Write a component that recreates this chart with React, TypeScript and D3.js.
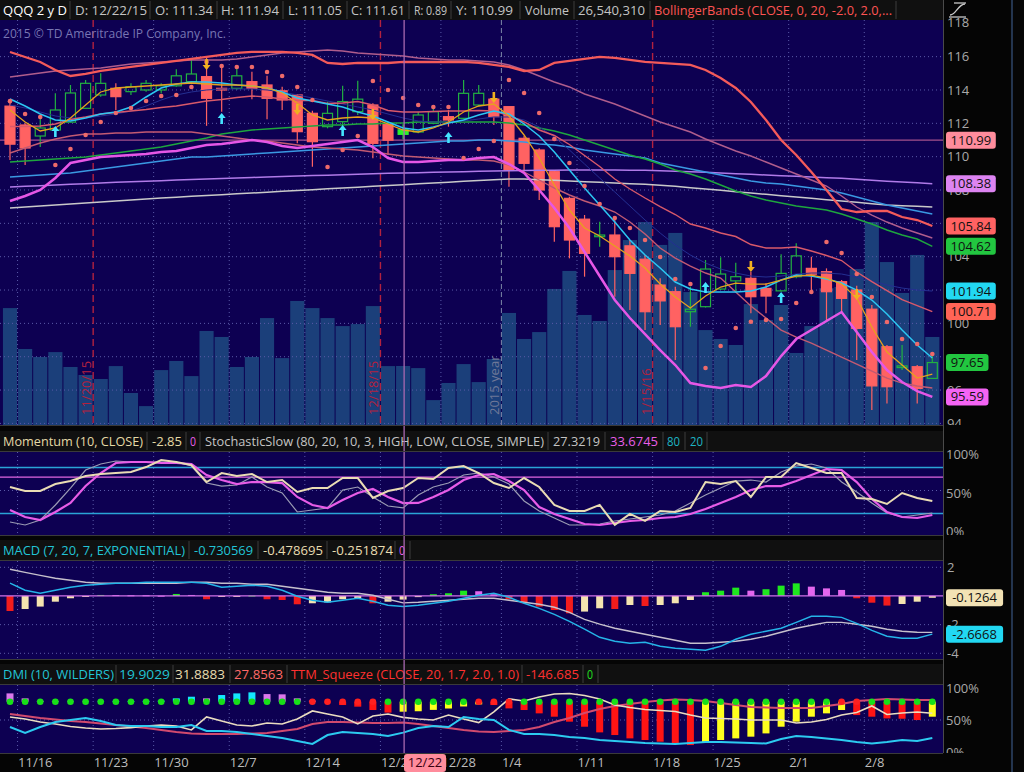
import * as d3 from "d3";

// ---------- data ----------
const dates = ["11/13","11/16","11/17","11/18","11/19","11/20","11/23","11/24","11/25","11/27",
  "11/30","12/1","12/2","12/3","12/4","12/7","12/8","12/9","12/10","12/11",
  "12/14","12/15","12/16","12/17","12/18","12/21","12/22","12/23","12/24","12/28",
  "12/29","12/30","12/31","1/4","1/5","1/6","1/7","1/8","1/11","1/12",
  "1/13","1/14","1/15","1/19","1/20","1/21","1/22","1/25","1/26","1/27",
  "1/28","1/29","2/1","2/2","2/3","2/4","2/5","2/8","2/9","2/10",
  "2/11","2/12"];

const openP = [113.03,111.9,111.24,111.6,112.07,112.9,113.7,114.1,113.9,114.0,
  114.0,114.25,114.5,114.8,114.1,114.1,114.5,114.3,113.95,113.7,
  112.6,111.8,112.1,112.7,113.1,111.95,111.34,111.48,112.0,112.4,
  112.3,113.1,113.45,113.0,111.1,110.4,109.1,107.5,106.25,105.2,
  105.3,104.65,103.85,102.3,101.9,100.7,101.0,102.06,102.55,102.7,
  102.1,101.95,102.8,103.3,103.1,102.5,102.0,100.85,98.6,97.35,
  97.4,96.7];
const highP = [113.4,112.0,112.32,113.8,114.3,114.6,115.0,114.4,114.4,114.6,
  114.4,115.25,115.8,116.0,115.4,115.45,115.1,114.85,114.2,113.75,
  112.75,113.3,114.25,114.55,113.2,112.1,111.94,112.7,113.0,112.8,
  114.6,114.3,113.8,113.0,111.25,110.5,109.2,107.6,106.5,106.1,
  106.4,105.0,104.1,102.7,102.2,102.2,103.8,103.97,103.64,103.1,
  102.4,104.15,104.8,104.0,103.3,102.6,102.25,101.1,98.7,98.7,
  97.5,98.1];
const lowP = [109.8,109.5,110.58,111.5,112.05,112.9,113.6,112.8,113.7,113.9,
  113.8,114.2,114.4,111.85,112.7,114.0,113.45,112.25,112.8,110.8,
  109.4,111.7,111.6,112.5,109.9,110.1,111.05,111.4,111.95,111.8,
  112.25,113.0,111.9,108.2,109.1,107.4,104.9,103.9,102.8,104.6,
  101.6,100.8,99.6,99.9,97.8,99.8,100.95,102.0,101.85,100.6,
  100.6,101.9,102.7,101.85,100.2,100.7,97.8,94.8,95.2,97.2,
  95.2,96.7];
const closeP = [110.75,110.52,111.72,112.8,113.82,114.4,114.4,113.6,114.2,114.4,
  114.25,114.85,114.96,113.5,114.0,114.85,114.1,113.5,113.4,111.5,
  110.9,112.6,113.3,113.45,110.8,110.99,111.61,112.5,112.7,112.2,
  113.8,113.8,112.4,109.2,109.6,108.0,105.8,105.0,104.2,105.3,
  104.0,103.0,100.7,101.35,99.8,100.85,103.26,102.96,102.8,101.6,
  101.64,103.0,104.05,102.95,101.9,101.5,99.7,96.25,96.2,97.45,
  96.1,97.65];
// volume, millions of shares
const volumeM = [52.6,34.2,30.6,32.8,26.1,22.5,20.7,26.5,14.4,8.5,
  24.7,28.8,22.0,42.3,39.6,26.1,30.6,48.1,30.1,55.8,
  52.6,48.1,44.5,45.4,53.5,26.5,26.54031,25.6,11.2,18.9,
  27.4,19.3,29.7,50.4,38.7,41.8,61.2,69.3,49.5,46.8,
  69.7,83.2,91.3,81.0,86.4,59.8,42.7,38.7,36.0,54.4,
  47.2,54.0,32.4,44.5,61.6,62.1,70.2,91.3,73.3,59.4,
  76.5,39.6];

const bbUpper = [116.28,115.98,115.68,115.2,114.84,114.96,115.14,115.26,115.38,115.5,
  115.62,115.74,115.86,115.98,116.1,116.22,116.28,116.28,116.28,116.22,
  116.1,115.62,115.56,115.62,115.62,115.62,115.68,115.68,115.68,115.68,
  115.68,115.62,115.5,115.38,115.14,115.2,115.62,115.74,115.86,115.98,
  115.92,115.8,115.68,115.62,115.56,115.5,115.2,114.72,114.12,113.28,
  112.2,111.0,110.1,109.08,108.0,106.86,106.68,106.74,106.74,106.38,
  106.2,105.84];
const bbMid = [111.81,111.81,111.84,111.96,112.23,112.38,112.56,112.65,112.74,112.83,
  112.95,113.04,113.19,113.34,113.43,113.55,113.64,113.58,113.46,113.37,
  113.37,113.19,113.22,113.31,113.1,112.77,112.68,112.68,112.71,112.74,
  112.74,112.77,112.74,112.47,112.08,111.6,111.27,110.73,110.07,109.41,
  108.66,108.06,107.52,107.01,106.53,105.96,105.72,105.42,105.21,104.73,
  104.52,104.52,104.58,104.34,104.07,103.77,103.08,102.51,101.97,101.43,
  101.07,100.71];
const bbLower = [107.34,107.64,108.0,108.72,109.62,109.8,109.98,110.04,110.1,110.16,
  110.28,110.34,110.52,110.7,110.76,110.88,111.0,110.88,110.64,110.52,
  110.64,110.76,110.88,111.0,110.58,109.92,109.68,109.68,109.74,109.8,
  109.8,109.92,109.98,109.56,109.02,108.0,106.92,105.72,104.28,102.84,
  101.4,100.32,99.36,98.4,97.5,96.42,96.24,96.12,96.3,96.18,
  96.84,98.04,99.06,99.6,100.14,100.68,99.48,98.28,97.2,96.48,
  95.94,95.59];
const envUpper = [114.78,114.9,115.02,115.14,115.2,115.26,115.32,115.44,115.56,115.62,
  115.68,115.74,115.8,115.8,115.8,115.86,115.98,116.1,116.22,116.28,
  116.34,116.4,116.34,116.22,116.16,116.1,116.04,115.92,115.86,115.8,
  115.8,115.74,115.68,115.5,115.2,114.84,114.48,114.18,113.76,113.46,
  113.16,112.8,112.44,112.08,111.78,111.48,111.06,110.7,110.34,110.04,
  109.68,109.32,108.96,108.6,108.24,107.64,106.98,106.5,106.08,105.72,
  105.42,105.12];
const envLower = [110.22,110.52,110.82,111.06,111.24,111.36,111.36,111.42,111.42,111.48,
  111.48,111.48,111.48,111.36,111.24,111.12,111.0,110.94,110.82,110.7,
  110.58,110.52,110.46,110.4,110.28,110.16,110.04,109.98,109.92,109.86,
  109.8,109.8,109.74,109.5,109.08,108.6,108.12,107.7,107.34,107.04,
  106.68,106.08,105.36,104.52,103.92,103.44,103.02,102.72,101.88,101.04,
  100.32,99.6,99.18,98.82,98.4,97.98,97.56,97.14,96.72,96.42,
  96.24,96.12];
const avgOrange = [112.8,112.08,111.54,111.72,112.32,113.1,113.88,114.12,114.18,114.24,
  114.3,114.36,114.42,114.36,114.3,114.3,114.24,114.12,113.82,113.22,
  112.5,112.2,112.32,112.38,112.32,111.96,111.6,111.48,111.72,112.08,
  112.68,113.04,113.16,112.44,111.3,109.92,108.3,106.8,105.72,105.24,
  104.64,104.04,103.32,102.36,101.58,100.92,101.64,102.18,102.42,102.36,
  102.36,102.6,102.84,102.9,102.72,102.36,101.52,99.78,98.28,97.5,
  96.72,96.96];
const avgCyan = [113.46,113.04,112.56,112.2,112.14,112.32,112.56,112.68,112.98,113.58,
  114.12,114.36,114.48,114.48,114.42,114.3,114.24,114.12,113.88,113.52,
  113.34,113.16,112.98,112.68,112.44,112.08,111.72,111.6,111.78,112.02,
  112.2,112.5,112.74,112.56,111.96,111.24,110.28,109.2,108.12,107.1,
  106.08,105.0,104.1,103.32,102.48,102.06,101.88,101.88,101.88,101.94,
  102.18,102.6,102.9,102.84,102.66,102.42,102.0,101.4,100.56,99.6,
  98.7,97.92];
const avgNavy = [113.1,112.92,112.68,112.44,112.32,112.32,112.44,112.56,112.74,113.04,
  113.4,113.7,113.88,114.0,114.06,114.06,114.06,114.0,113.88,113.7,
  113.52,113.34,113.16,112.98,112.8,112.56,112.32,112.14,112.08,112.08,
  112.14,112.26,112.38,112.38,112.2,111.78,111.18,110.4,109.56,108.72,
  107.88,107.04,106.2,105.42,104.7,104.1,103.62,103.26,103.02,102.84,
  102.78,102.84,102.96,103.02,103.02,102.96,102.78,102.54,102.3,102.12,
  102.0,101.94];
const avgGreen = [109.68,109.74,109.8,109.86,109.92,109.98,110.1,110.22,110.34,110.46,
  110.58,110.76,110.94,111.12,111.36,111.48,111.6,111.66,111.72,111.78,
  111.84,111.9,111.9,111.96,111.96,112.02,112.02,112.08,112.08,112.08,
  112.08,112.08,112.08,112.02,111.9,111.72,111.54,111.3,111.0,110.7,
  110.4,110.1,109.86,109.56,109.2,108.96,108.66,108.3,107.94,107.64,
  107.4,107.22,107.04,106.92,106.8,106.56,106.26,105.96,105.6,105.3,
  105.06,104.62];
const avgBlue = [108.78,108.84,108.9,108.96,109.02,109.14,109.26,109.38,109.5,109.62,
  109.74,109.86,109.98,109.98,110.04,110.1,110.16,110.22,110.28,110.34,
  110.4,110.46,110.52,110.58,110.64,110.7,110.76,110.82,110.88,110.94,
  110.94,111.0,111.0,110.94,110.88,110.76,110.7,110.58,110.4,110.28,
  110.16,110.04,109.92,109.62,109.44,109.26,109.08,108.9,108.72,108.54,
  108.42,108.36,108.24,108.12,108.0,107.82,107.58,107.34,107.1,106.92,
  106.74,106.56];
const avgViolet = [108.18,108.22,108.26,108.3,108.34,108.38,108.42,108.46,108.5,108.53,
  108.56,108.6,108.63,108.66,108.69,108.72,108.75,108.78,108.81,108.84,
  108.87,108.89,108.92,108.95,108.97,109.0,109.02,109.04,109.06,109.08,
  109.1,109.12,109.14,109.16,109.17,109.18,109.19,109.2,109.2,109.2,
  109.2,109.19,109.18,109.16,109.13,109.1,109.06,109.02,108.98,108.94,
  108.9,108.86,108.82,108.78,108.74,108.7,108.64,108.58,108.52,108.48,
  108.43,108.38];
const avgGray = [106.92,106.98,107.04,107.1,107.16,107.22,107.28,107.34,107.4,107.46,
  107.52,107.57,107.62,107.67,107.72,107.77,107.82,107.87,107.92,107.97,
  108.02,108.07,108.12,108.17,108.22,108.27,108.32,108.37,108.42,108.47,
  108.52,108.57,108.62,108.66,108.66,108.62,108.58,108.54,108.5,108.46,
  108.42,108.38,108.34,108.28,108.22,108.14,108.06,107.98,107.9,107.82,
  107.74,107.66,107.58,107.5,107.42,107.34,107.26,107.18,107.1,107.06,
  107.02,106.98];
const sarDots = [113.33,112.56,112.38,109.5,110.46,111.3,112.08,112.62,112.92,113.34,
  113.64,113.7,114.18,115.68,115.44,115.38,115.38,115.08,114.84,114.18,
  113.4,109.38,110.4,111.24,114.54,114.0,113.52,113.1,112.98,112.98,
  109.92,110.46,110.94,114.6,113.82,112.62,111.06,109.62,108.24,107.16,
  106.32,105.72,105.0,103.98,102.66,102.36,97.32,98.64,99.72,100.1,
  100.2,100.26,101.22,101.88,104.88,104.22,102.96,101.58,100.08,99.06,
  98.76,98.16];
const upArrowBars = [3, 14, 22, 29, 46, 51];
const upArrowTips = [111.84, 112.62, 111.9, 111.48, 102.48, 101.88];
const downArrowBars = [13, 19, 24, 32, 49, 56];
const downArrowTips = [115.2, 112.5, 112.2, 113.22, 103.08, 101.4];

const momentum = [-2.59,-3.63,-3.63,-1.81,-1.04,0.26,0.78,1.04,1.3,2.59,
  4.4,3.89,3.11,-1.3,1.04,0.26,0.78,-1.3,-0.78,-3.89,
  -2.85,-2.85,-0.26,-0.26,-5.44,-3.63,-2.85,-0.26,-0.52,2.33,
  2.85,1.04,-1.55,-2.85,-0.26,-2.59,-7.25,-8.81,-8.81,-7.25,
  -12.44,-9.59,-11.4,-8.81,-9.07,-8.03,-1.3,-1.81,-1.04,-5.18,
  0,0,3.63,2.33,1.04,1.04,-5.44,-5.7,-6.99,-4.15,
  -5.44,-6.22];
const slowK = [9.1,5.2,11.7,31.2,53.2,76.6,84.4,88.3,87.0,87.0,
  87.0,87.0,81.8,59.7,55.8,57.1,67.5,54.5,46.8,22.1,
  24.7,27.3,50.6,54.5,41.6,29.9,27.3219,44.2,54.5,59.7,
  70.1,72.7,67.5,58.4,36.4,23.4,14.3,5.2,5.2,6.5,
  10.4,13.0,15.6,18.2,23.4,33.8,44.2,53.2,62.3,63.6,
  61.0,74.0,81.8,84.4,79.2,61.0,48.1,33.8,20.8,15.6,
  18.2,20.8];
const slowD = [24.7,15.6,11.7,22.1,33.8,55.8,72.7,85.7,87.0,87.0,
  85.7,85.7,84.4,70.1,63.6,58.4,61.0,61.0,59.7,41.6,
  31.2,27.3,37.7,46.8,51.9,41.6,33.6745,33.8,41.6,50.6,
  63.6,70.1,71.4,62.3,50.6,28.6,19.5,13.0,6.5,5.2,
  7.8,10.4,11.7,14.3,15.6,19.5,26.0,33.8,41.6,50.6,
  55.8,55.8,62.3,70.1,77.9,76.6,61.0,39.0,22.1,15.6,
  14.3,18.2];

const macdValue = [0.89,0.40,0.19,0.40,0.61,0.75,0.82,0.89,0.89,0.96,
  0.96,0.96,0.96,0.89,0.61,0.68,0.75,0.68,0.40,-0.02,
  -0.30,-0.44,-0.30,-0.16,-0.37,-0.65,-0.730569,-0.65,-0.51,-0.37,
  -0.16,0.05,0.19,-0.09,-0.51,-0.86,-1.28,-1.77,-2.32,-2.88,
  -3.16,-3.30,-3.23,-3.51,-3.65,-3.72,-3.79,-3.51,-3.02,-2.67,
  -2.46,-2.25,-1.84,-1.42,-1.42,-1.49,-1.91,-2.40,-2.81,-2.95,
  -2.95,-2.6668];
const macdAvg = [1.86,1.65,1.44,1.24,1.10,0.96,0.89,0.89,0.89,0.89,
  0.89,0.89,0.96,0.96,0.89,0.89,0.82,0.82,0.68,0.54,
  0.40,0.26,0.19,0.19,0.05,-0.23,-0.478695,-0.44,-0.37,-0.30,
  -0.23,-0.16,-0.16,-0.30,-0.44,-0.58,-0.79,-1.14,-1.63,-1.97,
  -2.25,-2.46,-2.67,-2.88,-3.09,-3.30,-3.30,-3.23,-3.16,-3.02,
  -2.81,-2.53,-2.25,-2.04,-1.84,-1.84,-1.97,-2.11,-2.32,-2.46,
  -2.53,-2.54];
const macdDiff = [-1.05,-0.91,-0.74,-0.40,-0.16,-0.02,0.07,0.06,0.05,0.05,
  0.02,0.14,0.07,-0.23,-0.02,-0.02,0.03,-0.23,-0.28,-0.58,
  -0.51,-0.45,-0.23,-0.16,-0.51,-0.40,-0.251874,-0.08,0.12,0.19,
  0.37,0.33,0.12,-0.23,-0.51,-0.74,-0.98,-1.21,-1.09,-0.86,
  -0.91,-0.63,-0.70,-0.63,-0.51,-0.28,0.26,0.37,0.58,0.37,
  0.47,0.72,0.88,0.65,0.53,0.42,-0.16,-0.47,-0.67,-0.56,
  -0.40,-0.1264];

const diPlus = [24.3,19.6,24.3,28.2,29.8,31.4,29.0,25.9,25.1,25.1,
  24.3,24.3,25.9,21.2,21.2,20.4,18.8,17.3,15.7,13.3,
  11.0,18.0,20.4,19.6,18.8,17.3,19.9029,23.5,25.1,24.3,
  32.2,30.6,29.8,22.0,18.8,18.8,18.0,16.5,15.7,14.1,
  13.3,12.5,11.8,11.4,11.0,11.8,12.5,12.5,12.2,11.8,
  11.4,14.9,17.3,16.5,15.3,14.1,12.5,11.4,12.5,14.1,
  13.3,15.7];
const diMinus = [32.2,30.6,28.2,26.7,24.7,23.5,22.7,23.1,23.8,25.1,
  25.9,25.1,22.0,32.2,29.0,25.9,25.1,27.5,26.7,30.6,
  36.9,34.5,32.2,26.7,32.9,34.5,31.8883,30.6,29.8,33.7,
  30.6,27.8,36.1,46.3,44.7,47.8,50.2,50.6,49.0,46.3,
  41.6,39.6,38.0,37.3,36.5,33.7,31.4,31.0,30.6,29.8,
  29.8,29.8,27.5,28.2,30.2,33.7,35.7,40.8,34.1,35.3,
  36.1,35.1];
const adx = [34.5,32.9,31.4,30.2,29.0,28.2,27.1,25.9,24.7,23.5,
  22.0,20.4,19.2,18.8,18.8,18.8,19.2,19.6,21.2,22.7,
  26.7,28.2,28.2,27.8,27.5,27.5,27.8563,26.7,25.1,23.5,
  22.0,20.8,20.4,21.2,22.0,24.3,28.2,31.4,35.3,38.4,
  40.8,42.4,43.9,45.1,45.9,45.5,44.7,43.1,41.6,40.0,
  39.6,39.2,39.2,39.2,40.8,42.4,44.7,45.5,46.3,45.9,
  45.5,45.5];
const ttmHist = [122,49,12,8,6,5,6,8,10,12,
  15,49,73,49,98,122,137,112,108,49,
  15,-10,-49,-73,-122,-160,-146.685,-140,-120,-100,
  -70,-40,-49,-98,-122,-171,-220,-293,-367,-450,
  -489,-538,-562,-587,-611,-636,-597,-562,-538,-513,
  -465,-367,-293,-220,-171,-122,-196,-220,-245,-250,
  -269,-220];
// 1 = squeeze on (red dot), 0 = off (green dot)
const squeezeOn = [0,0,0,0,0,0,0,0,0,0, 0,0,0,0,0,0,0,0,0,0,
  1,1,1,1,1,0,0,0,0,0, 0,1,1,1,0,0,0,0,0,0,
  0,0,0,0,0,0,0,0,0,0, 0,0,0,0,0,1,1,0,0,0, 0,0];

const weekStarts = [1, 6, 10, 15, 20, 25, 29, 33, 38, 43, 47, 52, 57];
const weekLabels = ["11/16","11/23","11/30","12/7","12/14","12/21","12/28","1/4","1/11","1/18","1/25","2/1","2/8"];
const eventBars = [6, 25, 43];
const eventLabels = ["11/20/15", "12/18/15", "1/15/16"];
const yearBar = 33;
const CURSOR = 26;
// price ticks that the reference shows (the others sit fully under value bubbles)
const priceTicks = [94, 96, 100, 104, 108, 110, 112, 114, 116, 118];

// ---------- layout ----------
const PLOT_R = 943;
const BG = "#0d0052";
const GRID = "#5a5aa8";
const FONT = "'Open Sans', 'Noto Sans', sans-serif";
const RED_EVT = "#b3213f";

const x = d3.scaleBand<string>().domain(dates).range([2.44, 2.44 + 15.12 * dates.length]).padding(0);
const cx = (i: number) => (x(dates[i]) ?? 0) + x.bandwidth() / 2;
const bandLeft = (i: number) => x(dates[i]) ?? 0;

const yPrice = d3.scaleLinear().domain([94, 118]).range([423.4, 23.3]);
const yVol = d3.scaleLinear().domain([0, 100]).range([425, 202.7]);
const yStoch = d3.scaleLinear().domain([0, 100]).range([529, 452]);
const yMom = d3.scaleLinear().domain([-13.5, 6.5]).range([529, 452]);
const yMacd = d3.scaleLinear().domain([-4, 2]).range([653.3, 567.3]);
const yDmi = d3.scaleLinear().domain([0, 57.25]).range([758, 685]);
const yPct = d3.scaleLinear().domain([0, 100]).range([752, 688]);
const yTtm = d3.scaleLinear().domain([-146.685, 0]).range([711.7, 701.7]);

const linePath = (vals: number[], y: (v: number) => number) =>
  d3.line<number>().x((_, i) => cx(i)).y((v) => y(v))(vals) ?? "";

type Cell = { t: string; c: string; s: number; w: number; sep: number };

function HeaderRow({ y, h, cells }: { y: number; h: number; cells: Cell[] }) {
  return (
    <g>
      <rect x={0} y={y} width={PLOT_R} height={h} fill="#101010" />
      {cells.map((cell, k) => (
        <g key={k}>
          <text x={cell.s} y={y + h / 2 + 4.6} fill={cell.c} fontSize={13}
            textLength={cell.w} lengthAdjust="spacingAndGlyphs">{cell.t}</text>
          <line x1={cell.sep} x2={cell.sep} y1={y + 1} y2={y + h - 1} stroke="#3d3d3d" />
        </g>
      ))}
    </g>
  );
}

function VGrid({ top, bottom, skip }: { top: number; bottom: number; skip: number[] }) {
  return (
    <g>
      {weekStarts.filter((b) => !skip.includes(b)).map((b) => (
        <line key={b} x1={bandLeft(b)} x2={bandLeft(b)} y1={top} y2={bottom}
          stroke={GRID} strokeDasharray="1 3" />
      ))}
    </g>
  );
}

function Bubble({ y, text, bg, x0 = 946 }: { y: number; text: string; bg: string; x0?: number }) {
  const w = text.length * 7.3 + 6;
  return (
    <g>
      <rect x={x0} y={y - 8.5} width={w} height={17} rx={3} fill={bg} />
      <text x={x0 + w / 2} y={y + 4.6} textAnchor="middle" fontSize={13} fill="#111">{text}</text>
    </g>
  );
}

function PricePanel() {
  const top = 20, bottom = 425;
  const upCol = "#22b041", dnCol = "#ff6262";
  return (
    <g clipPath="url(#clipPrice)">
      <rect x={0} y={top} width={PLOT_R} height={bottom - top} fill={BG} />
      {volumeM.map((v, i) => (
        <rect key={i} x={bandLeft(i) + 0.5} y={yVol(v)} width={x.bandwidth() - 1}
          height={yVol(0) - yVol(v)} fill="#1b3f7a" />
      ))}
      {d3.range(94, 118, 2).map((p) => (
        <line key={p} x1={0} x2={PLOT_R} y1={yPrice(p)} y2={yPrice(p)} stroke={GRID} strokeDasharray="1 3" />
      ))}
      <VGrid top={top} bottom={bottom} skip={[...eventBars, yearBar]} />
      {eventBars.map((b, k) => (
        <g key={b}>
          <line x1={bandLeft(b)} x2={bandLeft(b)} y1={top} y2={bottom} stroke={RED_EVT}
            strokeWidth={1.4} strokeDasharray="7 4" />
          <text transform={`translate(${bandLeft(b) - 2},415) rotate(-90)`} fill={RED_EVT} fontSize={13}>
            {eventLabels[k]}
          </text>
        </g>
      ))}
      <line x1={bandLeft(yearBar)} x2={bandLeft(yearBar)} y1={top} y2={bottom} stroke="#7d88a8"
        strokeDasharray="5 3" />
      <text transform={`translate(${bandLeft(yearBar) - 2},415) rotate(-90)`} fill="#6f7898" fontSize={13}>2015 year</text>
      <line x1={0} x2={PLOT_R} y1={yPrice(closeP[CURSOR - 1])} y2={yPrice(closeP[CURSOR - 1])}
        stroke="#a4508c" strokeWidth={1.3} />
      {openP.map((o, i) => {
        const c = closeP[i];
        const up = c >= o;
        const cur = i === CURSOR;
        const col = cur ? "#2cf02c" : up ? upCol : dnCol;
        const yt = yPrice(Math.max(o, c));
        const yb = yPrice(Math.min(o, c));
        return (
          <g key={i}>
            <line x1={cx(i)} x2={cx(i)} y1={yPrice(highP[i])} y2={yt} stroke={col} strokeWidth={1.2} />
            <line x1={cx(i)} x2={cx(i)} y1={yb} y2={yPrice(lowP[i])} stroke={col} strokeWidth={1.2} />
            <rect x={cx(i) - 5} y={yt} width={10} height={Math.max(1.5, yb - yt)}
              fill={up && !cur ? "none" : col} stroke={col} strokeWidth={1.2} />
          </g>
        );
      })}
      <path d={linePath(avgGray, yPrice)} fill="none" stroke="#c9c9c9" strokeWidth={1.5} />
      <path d={linePath(avgViolet, yPrice)} fill="none" stroke="#b07ae8" strokeWidth={1.5} />
      <path d={linePath(avgBlue, yPrice)} fill="none" stroke="#3a98e2" strokeWidth={1.5} />
      <path d={linePath(avgGreen, yPrice)} fill="none" stroke="#1ea63e" strokeWidth={1.4} />
      <path d={linePath(avgNavy, yPrice)} fill="none" stroke="#242f92" strokeWidth={1} />
      <path d={linePath(envUpper, yPrice)} fill="none" stroke="#b05d8c" strokeWidth={1.4} />
      <path d={linePath(envLower, yPrice)} fill="none" stroke="#c35a72" strokeWidth={1.4} />
      <path d={linePath(bbMid, yPrice)} fill="none" stroke="#d9596a" strokeWidth={1.4} />
      <path d={linePath(bbUpper, yPrice)} fill="none" stroke="#f45a5a" strokeWidth={2.3} />
      <path d={linePath(bbLower, yPrice)} fill="none" stroke="#e657e6" strokeWidth={2.5} />
      <path d={linePath(avgCyan, yPrice)} fill="none" stroke="#2cc6f2" strokeWidth={1.5} />
      <path d={linePath(avgOrange, yPrice)} fill="none" stroke="#e6a11e" strokeWidth={1.3} />
      {sarDots.map((p, i) => (
        <circle key={i} cx={cx(i)} cy={yPrice(p)} r={2.3} fill="#ee6a6a" />
      ))}
      {upArrowBars.map((b, k) => {
        const tx = cx(b), ty = yPrice(upArrowTips[k]);
        return <path key={b} fill="#45e4ff"
          d={`M${tx},${ty} L${tx - 4},${ty + 5} L${tx - 1.3},${ty + 5} L${tx - 1.3},${ty + 11} L${tx + 1.3},${ty + 11} L${tx + 1.3},${ty + 5} L${tx + 4},${ty + 5} Z`} />;
      })}
      {downArrowBars.map((b, k) => {
        const tx = cx(b), ty = yPrice(downArrowTips[k]);
        return <path key={b} fill="#f0b020"
          d={`M${tx},${ty} L${tx - 4},${ty - 5} L${tx - 1.3},${ty - 5} L${tx - 1.3},${ty - 11} L${tx + 1.3},${ty - 11} L${tx + 1.3},${ty - 5} L${tx + 4},${ty - 5} Z`} />;
      })}
      <text x={3} y={38} fill="#7876b2" fontSize={12} textLength={223} lengthAdjust="spacingAndGlyphs">
        2015 © TD Ameritrade IP Company, Inc.
      </text>
    </g>
  );
}

function StochPanel() {
  const top = 452, bottom = 535;
  return (
    <g clipPath="url(#clipStoch)">
      <rect x={0} y={top} width={PLOT_R} height={bottom - top} fill={BG} />
      <VGrid top={top} bottom={bottom} skip={[]} />
      <line x1={0} x2={PLOT_R} y1={yStoch(50)} y2={yStoch(50)} stroke={GRID} strokeDasharray="1 3" />
      <line x1={0} x2={PLOT_R} y1={yStoch(80)} y2={yStoch(80)} stroke="#2aa3d6" strokeWidth={1.5} />
      <line x1={0} x2={PLOT_R} y1={yStoch(20)} y2={yStoch(20)} stroke="#2aa3d6" strokeWidth={1.5} />
      <line x1={0} x2={PLOT_R} y1={yMom(0)} y2={yMom(0)} stroke="#e266e2" strokeWidth={1.2} />
      <path d={linePath(slowK, yStoch)} fill="none" stroke="#9b9bb4" strokeWidth={1.2} />
      <path d={linePath(slowD, yStoch)} fill="none" stroke="#e75ce7" strokeWidth={2.2} />
      <path d={linePath(momentum, yMom)} fill="none" stroke="#eadcb4" strokeWidth={2} />
    </g>
  );
}

function MacdPanel() {
  const top = 561, bottom = 659;
  return (
    <g clipPath="url(#clipMacd)">
      <rect x={0} y={top} width={PLOT_R} height={bottom - top} fill={BG} />
      <VGrid top={top} bottom={bottom} skip={[]} />
      {[2, -2, -4].map((v) => (
        <line key={v} x1={0} x2={PLOT_R} y1={yMacd(v)} y2={yMacd(v)} stroke={GRID} strokeDasharray="1 3" />
      ))}
      {macdDiff.map((v, i) => {
        const prev = i > 0 ? macdDiff[i - 1] : v;
        const col = v >= 0 ? (v > prev ? "#1ee81e" : "#e466ee") : (v < prev || i === 0 ? "#f21c1c" : "#f4e4b0");
        const y0 = yMacd(0), y1 = yMacd(v);
        return <rect key={i} x={cx(i) - 3.5} y={Math.min(y0, y1)} width={7} height={Math.max(1, Math.abs(y1 - y0))} fill={col} />;
      })}
      <line x1={0} x2={PLOT_R} y1={yMacd(0)} y2={yMacd(0)} stroke="#d070e8" strokeWidth={1.3} />
      <path d={linePath(macdAvg, yMacd)} fill="none" stroke="#c6c0cc" strokeWidth={1.4} />
      <path d={linePath(macdValue, yMacd)} fill="none" stroke="#25b4e8" strokeWidth={1.4} />
    </g>
  );
}

function DmiPanel() {
  const top = 685, bottom = 753;
  return (
    <g clipPath="url(#clipDmi)">
      <rect x={0} y={top} width={PLOT_R} height={bottom - top} fill={BG} />
      <VGrid top={top} bottom={bottom} skip={[]} />
      <line x1={0} x2={PLOT_R} y1={yPct(50)} y2={yPct(50)} stroke={GRID} strokeDasharray="1 3" />
      {ttmHist.map((v, i) => {
        const prev = i > 0 ? ttmHist[i - 1] : v + 1;
        const col = v >= 0 ? (v > prev ? "#14e6ff" : "#dc78ec") : (v < prev ? "#ff1414" : "#ffff1e");
        const y0 = yTtm(0), y1 = yTtm(v);
        return <rect key={i} x={cx(i) - 3.5} y={Math.min(y0, y1)} width={7} height={Math.abs(y1 - y0)} fill={col} />;
      })}
      <path d={linePath(adx, yDmi)} fill="none" stroke="#d24a6e" strokeWidth={2} />
      <path d={linePath(diMinus, yDmi)} fill="none" stroke="#eadcc0" strokeWidth={1.6} />
      <path d={linePath(diPlus, yDmi)} fill="none" stroke="#2ccaf0" strokeWidth={2} />
      {squeezeOn.map((s, i) => (
        <circle key={i} cx={cx(i)} cy={yTtm(0)} r={3.3} fill={s ? "#ff2020" : "#18e018"} />
      ))}
    </g>
  );
}

export default function App() {
  const fmtVol = d3.format(",");
  const c = CURSOR;
  const head1: Cell[] = [
    { t: "QQQ 2 y D", c: "#ffffff", s: 3, w: 64, sep: 70 },
    { t: `D: ${dates[c]}/15`, c: "#c4c4c4", s: 75, w: 72, sep: 150 },
    { t: `O: ${openP[c].toFixed(2)}`, c: "#c4c4c4", s: 155, w: 58, sep: 217 },
    { t: `H: ${highP[c].toFixed(2)}`, c: "#c4c4c4", s: 221, w: 58, sep: 283 },
    { t: `L: ${lowP[c].toFixed(2)}`, c: "#c4c4c4", s: 288, w: 54, sep: 347 },
    { t: `C: ${closeP[c].toFixed(2)}`, c: "#c4c4c4", s: 351, w: 54, sep: 409 },
    { t: `R: ${(highP[c] - lowP[c]).toFixed(2)}`, c: "#c4c4c4", s: 414, w: 33, sep: 451 },
    { t: `Y: ${closeP[c - 1].toFixed(2)}`, c: "#c4c4c4", s: 456, w: 57, sep: 520 },
    { t: "Volume", c: "#c4c4c4", s: 525, w: 44, sep: 574 },
    { t: fmtVol(Math.round(volumeM[c] * 1e6)), c: "#c4c4c4", s: 578, w: 67, sep: 650 },
    { t: "BollingerBands (CLOSE, 0, 20, -2.0, 2.0,...", c: "#ff5454", s: 654, w: 238, sep: 896 },
  ];
  const head2: Cell[] = [
    { t: "Momentum (10, CLOSE)", c: "#e4d9a6", s: 3, w: 140, sep: 147 },
    { t: momentum[c].toFixed(2), c: "#e4d9a6", s: 152, w: 30, sep: 186 },
    { t: "0", c: "#e85ee8", s: 190, w: 6, sep: 200 },
    { t: "StochasticSlow (80, 20, 10, 3, HIGH, LOW, CLOSE, SIMPLE)", c: "#c4c4c4", s: 205, w: 339, sep: 548 },
    { t: slowK[c].toFixed(4), c: "#c4c4c4", s: 553, w: 47, sep: 605 },
    { t: slowD[c].toFixed(4), c: "#e85ee8", s: 610, w: 48, sep: 663 },
    { t: "80", c: "#1eb4c4", s: 667, w: 13, sep: 685 },
    { t: "20", c: "#1eb4c4", s: 690, w: 13, sep: 707 },
  ];
  const head3: Cell[] = [
    { t: "MACD (7, 20, 7, EXPONENTIAL)", c: "#22c4d6", s: 3, w: 182, sep: 189 },
    { t: macdValue[c].toFixed(6), c: "#22c4d6", s: 194, w: 59, sep: 258 },
    { t: macdAvg[c].toFixed(6), c: "#e8dcb0", s: 263, w: 60, sep: 327 },
    { t: macdDiff[c].toFixed(6), c: "#e8dcb0", s: 332, w: 61, sep: 395 },
    { t: "0", c: "#e85ee8", s: 399, w: 6, sep: 410 },
  ];
  const head4: Cell[] = [
    { t: "DMI (10, WILDERS)", c: "#22c4d6", s: 3, w: 111, sep: 116 },
    { t: diPlus[c].toFixed(4), c: "#22c4d6", s: 119, w: 51, sep: 173 },
    { t: diMinus[c].toFixed(4), c: "#e8dcb0", s: 175, w: 50, sep: 230 },
    { t: adx[c].toFixed(4), c: "#ff6a6a", s: 234, w: 49, sep: 287 },
    { t: "TTM_Squeeze (CLOSE, 20, 1.7, 2.0, 1.0)", c: "#ff3030", s: 291, w: 228, sep: 522 },
    { t: ttmHist[c].toFixed(3), c: "#ff3030", s: 526, w: 53, sep: 583 },
    { t: "0", c: "#20e020", s: 587, w: 6, sep: 598 },
  ];
  const axisText = "#a9a9a9";
  const lastI = dates.length - 1;
  const priceBubbles = [
    { v: closeP[c - 1], bg: "#ff8c9c" },
    { v: avgViolet[lastI], bg: "#dd84f2" },
    { v: bbUpper[lastI], bg: "#ff6262" },
    { v: avgGreen[lastI], bg: "#22c640" },
    { v: avgNavy[lastI], bg: "#22d8f2" },
    { v: bbMid[lastI], bg: "#ff6456" },
    { v: closeP[lastI], bg: "#22c640" },
    { v: bbLower[lastI], bg: "#f464f4" },
  ];
  const boxL = 404, boxR = 446;

  return (
    <svg width={1024} height={772} style={{ position: "fixed", left: 0, top: 0, fontFamily: FONT }}>
      <defs>
        <clipPath id="clipPrice"><rect x={0} y={20} width={PLOT_R} height={405} /></clipPath>
        <clipPath id="clipStoch"><rect x={0} y={452} width={PLOT_R} height={83} /></clipPath>
        <clipPath id="clipMacd"><rect x={0} y={561} width={PLOT_R} height={98} /></clipPath>
        <clipPath id="clipDmi"><rect x={0} y={685} width={PLOT_R} height={68} /></clipPath>
        <clipPath id="clipAxPrice"><rect x={PLOT_R} y={20} width={70} height={405} /></clipPath>
        <clipPath id="clipAxStoch"><rect x={PLOT_R} y={431} width={70} height={104} /></clipPath>
        <clipPath id="clipAxMacd"><rect x={PLOT_R} y={540} width={70} height={119} /></clipPath>
        <clipPath id="clipAxDmi"><rect x={PLOT_R} y={664} width={70} height={89} /></clipPath>
        <clipPath id="clipLeftOfBox"><rect x={0} y={750} width={boxL} height={22} /></clipPath>
        <clipPath id="clipRightOfBox"><rect x={boxR} y={750} width={1024 - boxR} height={22} /></clipPath>
      </defs>
      <rect x={0} y={0} width={1024} height={772} fill="#050505" />

      <HeaderRow y={0} h={20} cells={head1} />
      <PricePanel />
      <HeaderRow y={431} h={20} cells={head2} />
      <StochPanel />
      <HeaderRow y={540} h={20} cells={head3} />
      <MacdPanel />
      <HeaderRow y={664} h={20} cells={head4} />
      <DmiPanel />

      {/* cursor line */}
      <line x1={cx(CURSOR) + 1} x2={cx(CURSOR) + 1} y1={20} y2={753} stroke="#a868b0" strokeWidth={1.3} />

      {/* panel separators */}
      {[425, 451, 535, 560, 659, 684, 753].map((y) => (
        <line key={y} x1={0} x2={PLOT_R} y1={y + 0.5} y2={y + 0.5} stroke="#3a3a3a" />
      ))}
      <line x1={PLOT_R + 0.5} x2={PLOT_R + 0.5} y1={0} y2={753} stroke="#4a4a4a" />

      {/* right axes */}
      <g clipPath="url(#clipAxPrice)">
        {priceTicks.filter((p) => p < 118).map((p) => (
          <text key={p} x={947} y={yPrice(p) + 4.6} fill={axisText} fontSize={13}>{p}</text>
        ))}
        {priceBubbles.map((b, k) => (
          <Bubble key={k} y={yPrice(b.v)} text={b.v.toFixed(2)} bg={b.bg} />
        ))}
      </g>
      <text x={947} y={27} fill={axisText} fontSize={13}>118</text>
      <g clipPath="url(#clipAxStoch)">
        {[100, 50, 0].map((v) => (
          <text key={v} x={946} y={yStoch(v) + 7} fill={axisText} fontSize={13}>{v}%</text>
        ))}
      </g>
      <g clipPath="url(#clipAxMacd)">
        {[2, -2, -4].map((v) => (
          <text key={v} x={947} y={yMacd(v) + 4.6} fill={axisText} fontSize={13}>{v}</text>
        ))}
        <Bubble y={yMacd(macdDiff[lastI])} text={macdDiff[lastI].toFixed(4)} bg="#f2e2b4" />
        <Bubble y={yMacd(macdValue[lastI])} text={macdValue[lastI].toFixed(4)} bg="#22d8f2" />
      </g>
      <g clipPath="url(#clipAxDmi)">
        {[100, 50, 0].map((v) => (
          <text key={v} x={946} y={yPct(v) + 4.6} fill={axisText} fontSize={13}>{v}%</text>
        ))}
      </g>

      {/* icon top right */}
      <g stroke="#c8c8c8" strokeWidth={1.3} fill="none">
        <line x1={954} x2={966} y1={3} y2={3} />
        <line x1={949} x2={966} y1={17} y2={17} />
        <path d="M950,15 C956,15 958,4 965,4" />
      </g>
      <rect x={1010} y={0} width={14} height={772} fill="#060606" />
      <line x1={1012} x2={1012} y1={0} y2={772} stroke="#24354f" strokeWidth={2} />

      {/* time axis: labels under the cursor box are cut by it */}
      {weekStarts.map((b, k) => {
        const lx = bandLeft(b) + 0.5;
        const under = lx < boxR && lx + 36 > boxL;
        const clip = !under ? undefined : lx < boxL ? "url(#clipLeftOfBox)" : "url(#clipRightOfBox)";
        return (
          <text key={b} x={lx} y={767} fill="#bdbdbd" fontSize={13} clipPath={clip}>{weekLabels[k]}</text>
        );
      })}
      <rect x={boxL} y={754} width={boxR - boxL} height={18} rx={3} fill="#ff8c9c" />
      <text x={(boxL + boxR) / 2} y={767} textAnchor="middle" fill="#3a0010" fontSize={13}>{dates[CURSOR]}</text>
    </svg>
  );
}
